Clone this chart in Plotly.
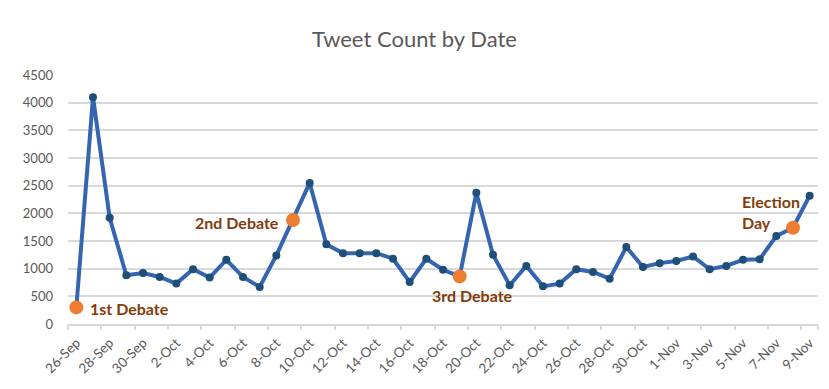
import plotly.graph_objects as go

# Daily tweet counts, 26 Sep – 9 Nov
dates = [
    "26-Sep", "27-Sep", "28-Sep", "29-Sep", "30-Sep",
    "1-Oct", "2-Oct", "3-Oct", "4-Oct", "5-Oct", "6-Oct", "7-Oct", "8-Oct", "9-Oct",
    "10-Oct", "11-Oct", "12-Oct", "13-Oct", "14-Oct", "15-Oct", "16-Oct", "17-Oct",
    "18-Oct", "19-Oct", "20-Oct", "21-Oct", "22-Oct", "23-Oct", "24-Oct", "25-Oct",
    "26-Oct", "27-Oct", "28-Oct", "29-Oct", "30-Oct", "31-Oct",
    "1-Nov", "2-Nov", "3-Nov", "4-Nov", "5-Nov", "6-Nov", "7-Nov", "8-Nov", "9-Nov",
]
counts = [
    300, 4100, 1920, 880, 920, 850, 730, 990, 840, 1160, 850, 670, 1240, 1880,
    2550, 1440, 1280, 1280, 1280, 1180, 760, 1180, 980, 860, 2370, 1250, 700,
    1050, 680, 730, 990, 940, 820, 1390, 1030, 1100, 1140, 1220, 990, 1050,
    1160, 1170, 1590, 1740, 2320,
]

# Key events highlighted on the line
event_dates = ["26-Sep", "9-Oct", "19-Oct", "8-Nov"]
event_labels = ["1st Debate", "2nd Debate", "3rd Debate", "Election<br>Day"]

y_ticks = list(range(0, 5000, 500))

idx = list(range(len(dates)))
event_idx = [dates.index(d) for d in event_dates]
event_counts = [counts[i] for i in event_idx]

BLUE = "#3565B0"
NAVY = "#1F4E79"
ORANGE = "#ED7D31"
BROWN = "#843C0C"
GRID = "#D9D9D9"
TEXT = "#595959"
FONT = "Lato"

fig = go.Figure()
fig.add_trace(go.Scatter(
    x=idx, y=counts, mode="lines+markers",
    line=dict(color=BLUE, width=4),
    marker=dict(color=NAVY, size=8),
    hoverinfo="skip", showlegend=False,
))
fig.add_trace(go.Scatter(
    x=event_idx, y=event_counts, mode="markers",
    marker=dict(color=ORANGE, size=14),
    hoverinfo="skip", showlegend=False,
))
# invisible trace to carry the boundary tick marks on a second x axis
fig.add_trace(go.Scatter(
    x=[idx[0]], y=[counts[0]], xaxis="x2", mode="markers",
    marker=dict(opacity=0), hoverinfo="skip", showlegend=False,
))

label_offsets = [
    dict(xanchor="left", yanchor="middle", xshift=12, yshift=-1),
    dict(xanchor="right", yanchor="middle", xshift=-12, yshift=-3),
    dict(xanchor="center", yanchor="middle", xshift=13, yshift=-19),
    dict(xanchor="left", yanchor="middle", xshift=-53, yshift=16),
]
for i, lab, off in zip(event_idx, event_labels, label_offsets):
    fig.add_annotation(
        x=i, y=counts[i], text=f"<b>{lab}</b>", showarrow=False, align="left",
        font=dict(family=FONT, size=16, color=BROWN), **off,
    )

tick_idx = idx[::2]
fig.update_layout(
    width=829, height=389,
    margin=dict(l=68, r=11, t=75, b=65),
    paper_bgcolor="white", plot_bgcolor="white",
    title=dict(
        text="Tweet Count by Date", x=0.5, xanchor="center",
        y=1 - 39 / 389, yanchor="middle", yref="container",
        font=dict(family=FONT, size=22, color=TEXT),
    ),
    xaxis=dict(
        range=[-0.5, len(dates) - 0.5], tickmode="array",
        tickvals=tick_idx, ticktext=[dates[i] for i in tick_idx],
        tickangle=-45, ticks="", showgrid=False, zeroline=False,
        showline=True, linecolor=GRID, linewidth=1.5,
        ticklabelstandoff=4,
        tickfont=dict(family=FONT, size=13.5, color=TEXT),
    ),
    xaxis2=dict(
        overlaying="x", side="bottom", anchor="y",
        range=[-0.5, len(dates) - 0.5], tickmode="array",
        tickvals=[i - 0.5 for i in tick_idx] + [len(dates) - 0.5],
        showticklabels=False, ticks="outside", ticklen=5, tickwidth=1.5,
        tickcolor=GRID, showgrid=False, zeroline=False, showline=False,
    ),
    yaxis=dict(
        range=[0, 4500], tickmode="array", tickvals=y_ticks,
        showgrid=True, gridcolor=GRID, gridwidth=1.5, zeroline=False,
        ticks="", ticklabelstandoff=14,
        tickfont=dict(family=FONT, size=13, color=TEXT),
    ),
)

fig.write_html("out.html")
